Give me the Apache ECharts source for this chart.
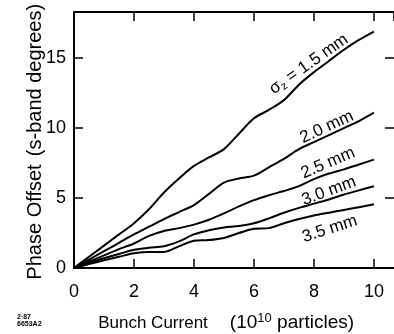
<!DOCTYPE html>
<html><head><meta charset="utf-8">
<script src="https://cdn.jsdelivr.net/npm/echarts@6/dist/echarts.min.js"></script>
<style>html,body{margin:0;padding:0;background:#fff}#c{width:394px;height:334px}</style>
</head><body><div id="c"></div>
<script>
const xTicks = [0, 2, 4, 6, 8, 10];
const yTicks = [0, 5, 10, 15];
const current = [0, 0.5, 1, 1.5, 2, 2.5, 3, 3.5, 4, 4.5, 5, 5.5, 6, 6.5, 7, 7.5, 8, 8.5, 9, 9.5, 10];
const s15 = [0, 0.8, 1.6, 2.4, 3.2, 4.2, 5.4, 6.4, 7.3, 7.9, 8.5, 9.6, 10.7, 11.3, 12.0, 13.1, 14.0, 14.8, 15.6, 16.3, 16.9];
const s20 = [0, 0.6, 1.2, 1.8, 2.4, 2.95, 3.5, 4.0, 4.5, 5.3, 6.1, 6.4, 6.6, 7.2, 7.8, 8.5, 9.0, 9.5, 10.0, 10.5, 11.1];
const s25 = [0, 0.45, 0.9, 1.35, 1.75, 2.3, 2.65, 2.85, 3.1, 3.45, 3.9, 4.4, 4.85, 5.2, 5.5, 5.85, 6.35, 6.75, 7.05, 7.4, 7.75];
const s30 = [0, 0.35, 0.7, 1.0, 1.3, 1.45, 1.55, 1.9, 2.4, 2.7, 2.9, 3.0, 3.2, 3.55, 3.95, 4.3, 4.6, 4.9, 5.25, 5.55, 5.85];
const s35 = [0, 0.28, 0.55, 0.8, 1.05, 1.15, 1.15, 1.55, 1.95, 2.0, 2.15, 2.5, 2.8, 2.85, 3.2, 3.5, 3.75, 3.95, 4.15, 4.35, 4.55];
const curveLabels = ['σ{sub|z} = 1.5 mm', '2.0 mm', '2.5 mm', '3.0 mm', '3.5 mm'];
const labelX = [7.83, 8.43, 8.47, 8.5, 8.53];
const labelY = [14.57, 10.07, 7.5, 5.5, 2.79];
const labelAngle = [35, 25, 23, 20, 18];

const allSeries = [s15, s20, s25, s30, s35];
const FONT = 'Liberation Sans';
const chart = echarts.init(document.getElementById('c'), null, {renderer: 'canvas'});
const axisLine = {show: true, onZero: false, lineStyle: {color: '#000', width: 2}};
const tick = {show: true, inside: true, length: 9, lineStyle: {color: '#000', width: 1.5}};
const option = {
  backgroundColor: '#fff',
  animation: false,
  grid: {left: 74, top: 12, right: 0, bottom: 66},
  xAxis: [{
    type: 'value', min: 0, max: 10.67, interval: 2, position: 'bottom',
    axisLine: axisLine, axisTick: tick, splitLine: {show: false},
    axisLabel: {color: '#000', fontFamily: FONT, fontSize: 18, margin: 15, showMaxLabel: false,
      formatter: v => xTicks.includes(v) ? String(v) : ''}
  }, {
    type: 'value', min: 0, max: 10.67, interval: 2, position: 'top',
    axisLine: axisLine, axisTick: tick, splitLine: {show: false}, axisLabel: {show: false}
  }],
  yAxis: [{
    type: 'value', min: 0, max: 18.3, interval: 5, position: 'left',
    axisLine: axisLine, axisTick: tick, splitLine: {show: false},
    axisLabel: {color: '#000', fontFamily: FONT, fontSize: 18, margin: 8, showMaxLabel: false,
      formatter: v => yTicks.includes(v) ? String(v) : ''}
  }, {
    type: 'value', min: 0, max: 18.3, interval: 5, position: 'right',
    axisLine: {show: false, onZero: false}, axisTick: tick, splitLine: {show: false}, axisLabel: {show: false}
  }],
  series: allSeries.map(s => ({
    type: 'line', smooth: 0.3, symbol: 'none',
    lineStyle: {color: '#000', width: 2},
    data: current.map((x, i) => [x, s[i]])
  }))
};
chart.setOption(option);

const graphics = [];
curveLabels.forEach((t, i) => {
  const p = chart.convertToPixel({gridIndex: 0}, [labelX[i], labelY[i]]);
  graphics.push({
    type: 'text', x: p[0], y: p[1], rotation: labelAngle[i] * Math.PI / 180,
    style: {text: t, fill: '#000', font: '17px "' + FONT + '"', align: 'center', verticalAlign: 'middle',
      rich: {sub: {fontSize: 11, fontFamily: FONT, fill: '#000', verticalAlign: 'bottom', padding: [8, 0, 0, 0]}}}
  });
});
graphics.push(
  {type: 'text', x: 35, y: 222, rotation: Math.PI / 2,
   style: {text: 'Phase Offset', fill: '#000', font: '20px "' + FONT + '"', align: 'center', verticalAlign: 'middle'}},
  {type: 'text', x: 35, y: 80, rotation: Math.PI / 2,
   style: {text: '(s-band degrees)', fill: '#000', font: '20px "' + FONT + '"', align: 'center', verticalAlign: 'middle'}},
  {type: 'text', x: 153, y: 323,
   style: {text: 'Bunch Current', fill: '#000', font: '17px "' + FONT + '"', align: 'center', verticalAlign: 'middle'}},
  {type: 'text', x: 292, y: 323,
   style: {text: '(10{sup|10} particles)', fill: '#000', font: '19px "' + FONT + '"', align: 'center', verticalAlign: 'middle',
     rich: {sup: {fontSize: 13, fontFamily: FONT, fill: '#000', verticalAlign: 'top', padding: [0, 0, 9, 0]}}}},
  {type: 'text', x: 17, y: 317,
   style: {text: '2·87', fill: '#000', font: 'bold 7px "' + FONT + '"', align: 'left', verticalAlign: 'middle'}},
  {type: 'text', x: 17, y: 324,
   style: {text: '6653A2', fill: '#000', font: 'bold 7px "' + FONT + '"', align: 'left', verticalAlign: 'middle'}}
);
chart.setOption({graphic: graphics});
</script>
</body></html>
